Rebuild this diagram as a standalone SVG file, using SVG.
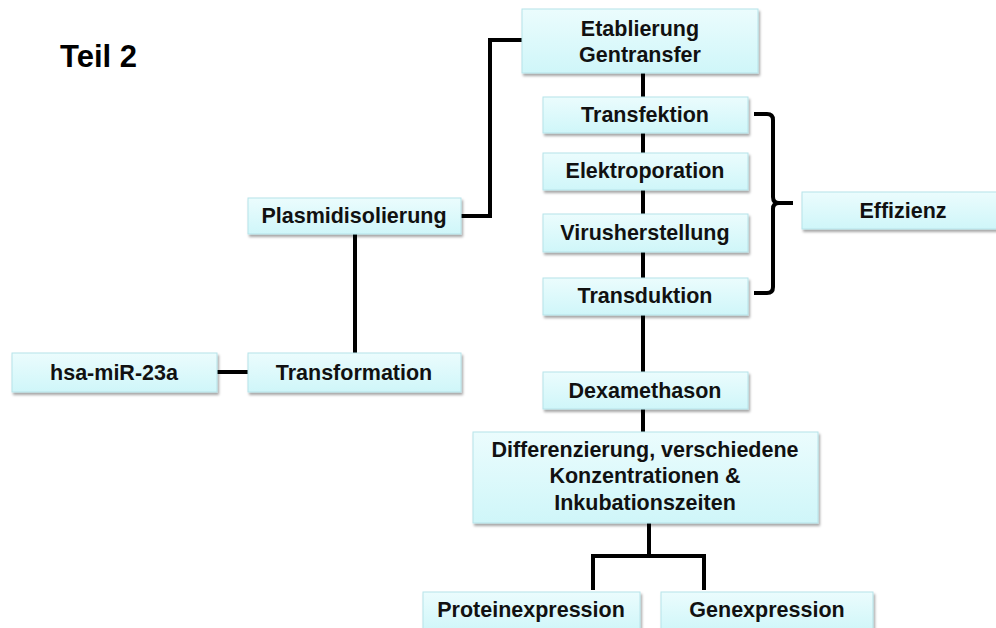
<svg xmlns="http://www.w3.org/2000/svg" width="996" height="628" viewBox="0 0 996 628">
<defs>
<linearGradient id="g" x1="0" y1="0" x2="0" y2="1">
<stop offset="0" stop-color="#ebfcfd"/>
<stop offset="1" stop-color="#cff6f9"/>
</linearGradient>
<filter id="sh" x="-10%" y="-20%" width="120%" height="150%">
<feDropShadow dx="1.5" dy="2.5" stdDeviation="1.2" flood-color="#000" flood-opacity="0.35"/>
</filter>
</defs>
<style>
.box{fill:url(#g);stroke:#b6e3e9;stroke-width:1;filter:url(#sh)}
.t{font-family:"Liberation Sans",Arial,sans-serif;font-weight:bold;font-size:21.5px;fill:#111;text-anchor:middle}
.c{fill:none;stroke:#000;stroke-width:4}
</style>
<rect width="996" height="628" fill="#fff"/>
<text x="60" y="67" font-family="Liberation Sans, Arial, sans-serif" font-weight="bold" font-size="31" fill="#000">Teil 2</text>
<g id="connectors">
<path class="c" d="M461,216 H490 V40 H522"/>
<path class="c" d="M355,234 V353"/>
<path class="c" d="M217,372 H248"/>
<path class="c" d="M643,73 V372"/>
<path class="c" d="M643,409 V432"/>
<path class="c" d="M649,523 V556 M593,590 V556 H704 V590"/>
<path class="c" d="M754,114 H767 Q773,114 773,120 V197 Q773,203 779,203 H793 M779,203 Q773,203 773,209 V287 Q773,293 767,293 H754"/>
</g>
<g id="etablierung"><rect class="box" x="522" y="9" width="236" height="64"/><text class="t" x="640" y="36">Etablierung</text><text class="t" x="640" y="62">Gentransfer</text></g>
<g id="transfektion"><rect class="box" x="543" y="97" width="205" height="36"/><text class="t" x="645" y="122">Transfektion</text></g>
<g id="elektroporation"><rect class="box" x="543" y="153" width="205" height="37"/><text class="t" x="645" y="178">Elektroporation</text></g>
<g id="virusherstellung"><rect class="box" x="543" y="214" width="205" height="38"/><text class="t" x="645" y="240">Virusherstellung</text></g>
<g id="transduktion"><rect class="box" x="543" y="278" width="205" height="37"/><text class="t" x="645" y="303">Transduktion</text></g>
<g id="effizienz"><rect class="box" x="802" y="192" width="204" height="37"/><text class="t" x="903" y="218">Effizienz</text></g>
<g id="plasmidisolierung"><rect class="box" x="248" y="198" width="213" height="36"/><text class="t" x="354" y="223">Plasmidisolierung</text></g>
<g id="transformation"><rect class="box" x="248" y="353" width="213" height="39"/><text class="t" x="354" y="380">Transformation</text></g>
<g id="hsa"><rect class="box" x="12" y="353" width="205" height="39"/><text class="t" x="114" y="380">hsa-miR-23a</text></g>
<g id="dexamethason"><rect class="box" x="543" y="372" width="205" height="37"/><text class="t" x="645" y="398">Dexamethason</text></g>
<g id="differenzierung"><rect class="box" x="473" y="432" width="345" height="91"/><text class="t" x="645" y="457">Differenzierung, verschiedene</text><text class="t" x="645" y="483">Konzentrationen &amp;</text><text class="t" x="645" y="510">Inkubationszeiten</text></g>
<g id="proteinexpression"><rect class="box" x="423" y="592" width="217" height="40"/><text class="t" x="531" y="617">Proteinexpression</text></g>
<g id="genexpression"><rect class="box" x="661" y="592" width="212" height="40"/><text class="t" x="767" y="617">Genexpression</text></g>
</svg>
